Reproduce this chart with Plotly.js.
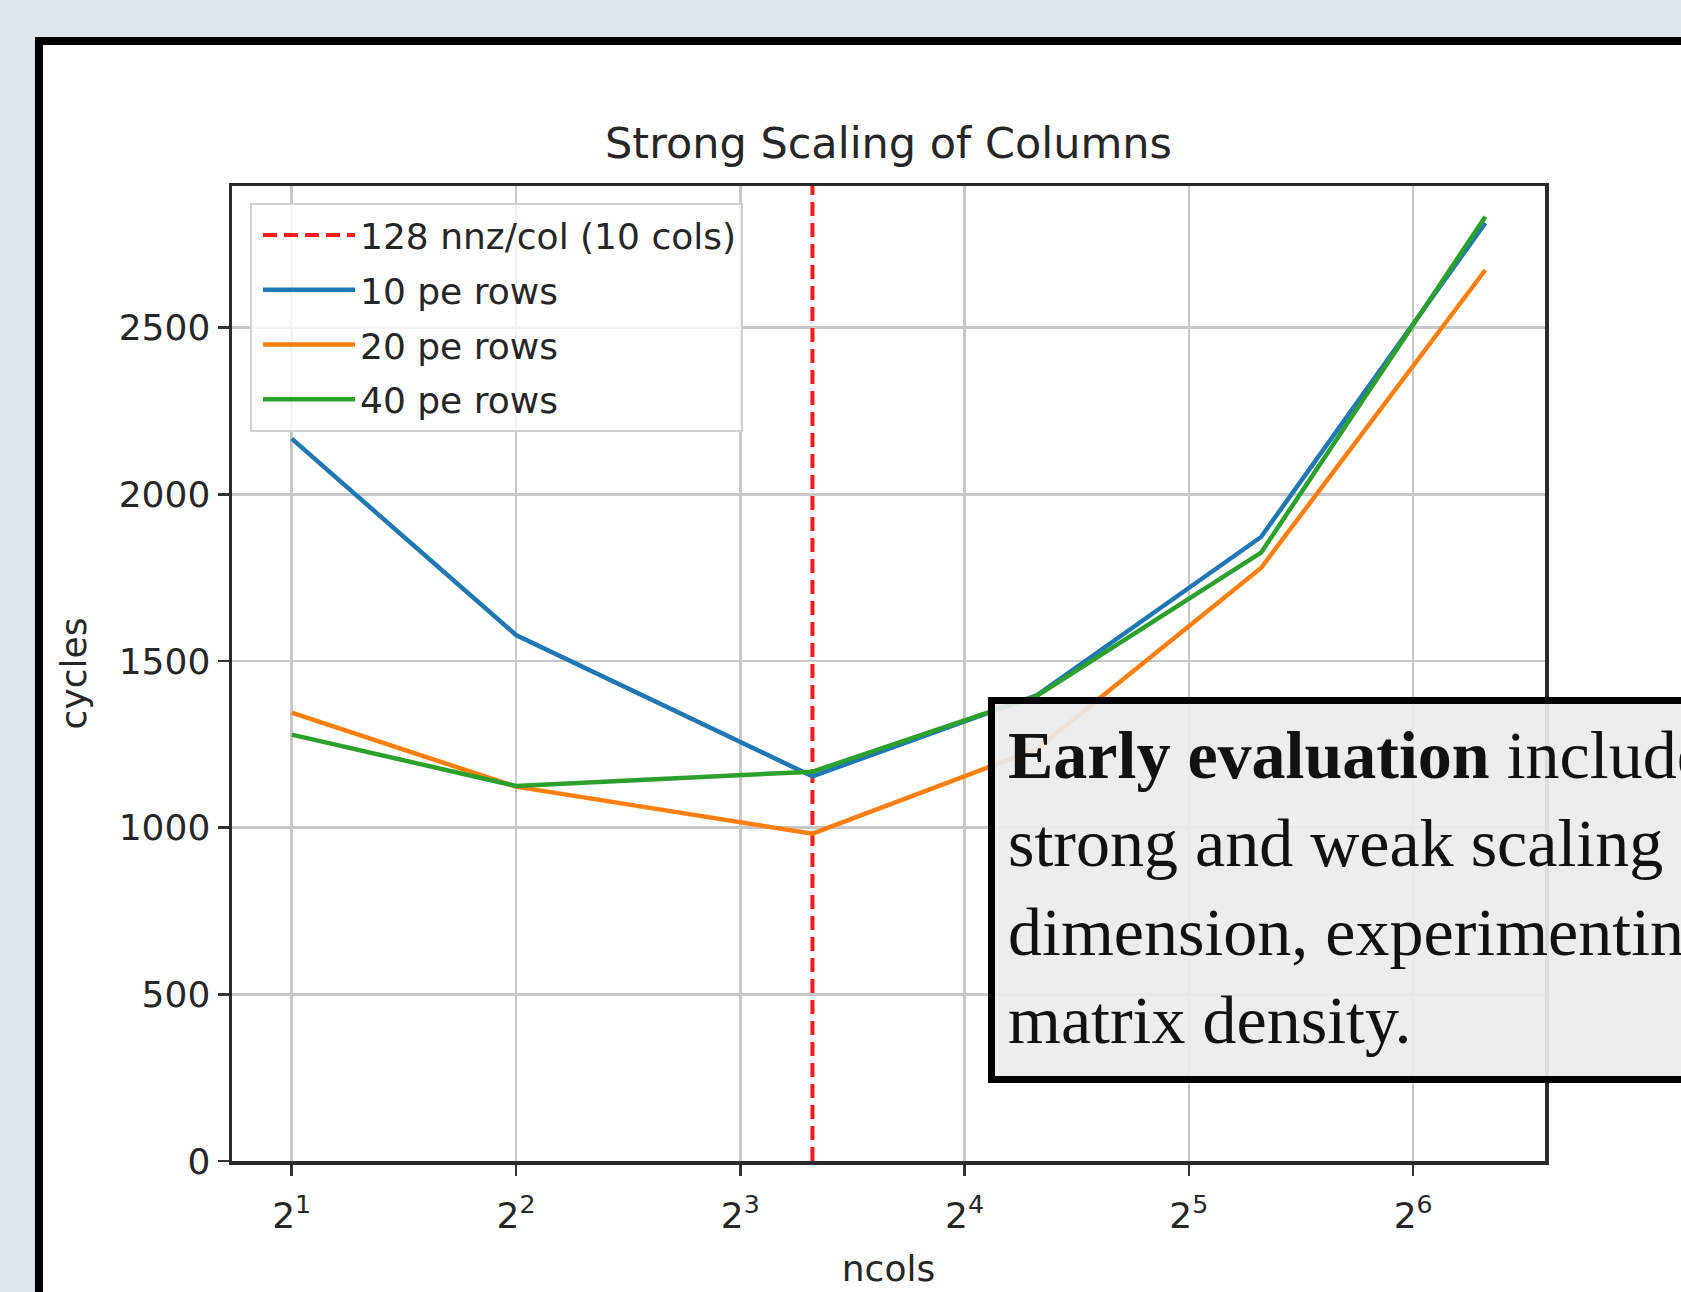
<!DOCTYPE html>
<html>
<head>
<meta charset="utf-8">
<script src="https://cdn.plot.ly/plotly-3.0.1.min.js"></script>
<style>
  html, body { margin: 0; padding: 0; background: #dee5ed; }
  #chart { width: 1681px; height: 1292px; }
</style>
</head>
<body>
<div id="chart"></div>
<script>
// ---- data ----
const ncols = [2, 4, 10, 20, 40, 80];
const pe10Rows = [2167, 1578, 1154, 1397, 1872, 2814];
const pe20Rows = [1345, 1123, 982, 1236, 1779, 2673];
const pe40Rows = [1279, 1125, 1168, 1395, 1825, 2833];
const markerCols = [10, 10];
const markerLabel = '128 nnz/col (10 cols)';
const seriesNames = ['10 pe rows', '20 pe rows', '40 pe rows'];
const xTickVals = [2, 4, 8, 16, 32, 64];
const xTickText = ['2<sup>1</sup>', '2<sup>2</sup>', '2<sup>3</sup>', '2<sup>4</sup>', '2<sup>5</sup>', '2<sup>6</sup>'];
const yTickVals = [0, 500, 1000, 1500, 2000, 2500];
const yRange = [0, 2925];

// ---- geometry ----
const W = 1681, H = 1292;
const M = { l: 232, r: 136, t: 186, b: 131 };
const PW = W - M.l - M.r, PH = H - M.t - M.b;
const px2x = p => (p - M.l) / PW;
const px2y = p => (H - M.b - p) / PH;

const lx0 = Math.log10(ncols[0]), lx1 = Math.log10(ncols[ncols.length - 1]);
const xRange = [lx0 - 0.05 * (lx1 - lx0), lx1 + 0.05 * (lx1 - lx0)];

const font = 'DejaVu Sans, sans-serif';
const txt = '#262626';

const traces = [
  { x: markerCols, y: yRange, name: markerLabel, mode: 'lines',
    line: { color: '#ff1a1a', width: 4, dash: '14px,7px' }, legendgroup: 'a' },
  { x: ncols, y: pe10Rows, name: seriesNames[0], mode: 'lines',
    line: { color: '#1f77b4', width: 4.5 }, legendgroup: 'b' },
  { x: ncols, y: pe20Rows, name: seriesNames[1], mode: 'lines',
    line: { color: '#ff7f0e', width: 4.5 }, legendgroup: 'c' },
  { x: ncols, y: pe40Rows, name: seriesNames[2], mode: 'lines',
    line: { color: '#2ca02c', width: 4.5 }, legendgroup: 'd' }
];

const layout = {
  width: W, height: H,
  margin: M,
  paper_bgcolor: '#dee5ed',
  plot_bgcolor: 'rgba(0,0,0,0)',
  font: { family: font, color: txt, size: 36 },
  showlegend: true,
  title: { text: 'Strong Scaling of Columns', font: { size: 43, color: txt, family: font },
           x: 0.5, xref: 'paper', xanchor: 'center', y: 1 - 143 / H, yref: 'container', yanchor: 'middle' },
  xaxis: {
    type: 'log', range: xRange,
    tickvals: xTickVals, ticktext: xTickText,
    ticks: 'outside', ticklen: 11, tickwidth: 2.5, tickcolor: '#333',
    ticklabelstandoff: 9,
    showgrid: true, gridcolor: '#c8c8c8', gridwidth: 2.5,
    showline: true, linecolor: '#2a2a2a', linewidth: 3.5, mirror: true,
    zeroline: false,
    tickfont: { size: 36, color: txt, family: font },
    title: { text: 'ncols', font: { size: 36, color: txt, family: font }, standoff: 22 }
  },
  yaxis: {
    range: yRange, tickvals: yTickVals,
    ticks: 'outside', ticklen: 11, tickwidth: 2.5, tickcolor: '#333',
    showgrid: true, gridcolor: '#c8c8c8', gridwidth: 2.5,
    showline: true, linecolor: '#2a2a2a', linewidth: 3.5, mirror: true,
    zeroline: false,
    tickfont: { size: 36, color: txt, family: font },
    title: { text: 'cycles', font: { size: 36, color: txt, family: font }, standoff: 22 }
  },
  legend: {
    x: px2x(250), y: px2y(203), xanchor: 'left', yanchor: 'top',
    bgcolor: 'rgba(255,255,255,0.8)', bordercolor: '#d0d0d0', borderwidth: 2,
    font: { size: 36, color: txt, family: font },
    itemwidth: 92, indentation: 6, traceorder: 'grouped', tracegroupgap: 5
  },
  shapes: [
    { type: 'rect', xref: 'paper', yref: 'paper', layer: 'below',
      x0: px2x(39), x1: px2x(1720), y0: px2y(1340), y1: px2y(41),
      fillcolor: '#ffffff', line: { color: '#000000', width: 8 } }
  ],
  annotations: [
    { xref: 'paper', yref: 'paper', x: px2x(988), y: px2y(697), xanchor: 'left', yanchor: 'top',
      showarrow: false, align: 'left', valign: 'top', height: 346,
      text: '<b>Early evaluation</b> includes<br>strong and weak scaling<br>dimension, experimenting<br>matrix density.',
      font: { family: 'Liberation Serif, serif', size: 68, color: '#111111' },
      bgcolor: 'rgba(236,236,236,0.92)', bordercolor: '#000000', borderwidth: 7, borderpad: 13 }
  ]
};

Plotly.newPlot('chart', traces, layout, { displayModeBar: false, staticPlot: true });
</script>
</body>
</html>
